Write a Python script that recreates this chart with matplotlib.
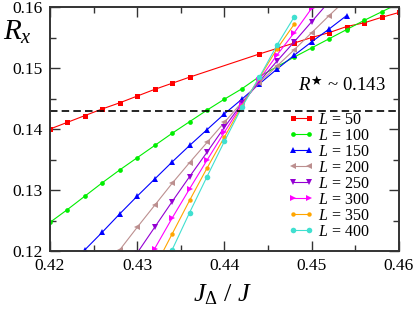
import matplotlib
matplotlib.use("Agg")
import matplotlib.pyplot as plt
import numpy as np

plt.rcParams['font.family'] = ['Liberation Serif', 'DejaVu Serif']
plt.rcParams['mathtext.fontset'] = 'custom'
plt.rcParams['mathtext.rm'] = 'Liberation Serif'
plt.rcParams['mathtext.it'] = 'Liberation Serif:italic'
plt.rcParams['mathtext.bf'] = 'Liberation Serif:bold'
plt.rcParams['mathtext.fallback'] = 'stix'

# ---- data ----
sizes = [50, 100, 150, 200, 250, 300, 350, 400]

x50 = [0.420, 0.422, 0.424, 0.426, 0.428, 0.430, 0.432, 0.434, 0.436,
       0.444, 0.446, 0.448, 0.450, 0.452, 0.454, 0.456, 0.458, 0.460]
y50 = [0.1400, 0.1411, 0.1422, 0.1433, 0.1443, 0.1454, 0.1465, 0.1475, 0.1485,
       0.1523, 0.1532, 0.1541, 0.1550, 0.1558, 0.1568, 0.1574, 0.1583, 0.1591]

x100 = [0.420, 0.422, 0.424, 0.426, 0.428, 0.430, 0.432, 0.434, 0.436, 0.438,
        0.440, 0.442, 0.444, 0.446, 0.448, 0.450, 0.452, 0.454, 0.456, 0.458, 0.460]
y100 = [0.1247, 0.1268, 0.1290, 0.1312, 0.1333, 0.1353, 0.1373, 0.1393, 0.1412, 0.1431,
        0.1449, 0.1466, 0.1486, 0.1502, 0.1518, 0.1533, 0.1548, 0.1563, 0.1578, 0.1592, 0.1606]

x150 = [0.424, 0.426, 0.428, 0.430, 0.432, 0.434, 0.436, 0.438, 0.440, 0.442,
        0.444, 0.446, 0.448, 0.450, 0.452, 0.454]
y150 = [0.1202, 0.1231, 0.1261, 0.1290, 0.1318, 0.1346, 0.1373, 0.1399, 0.1425, 0.1449,
        0.1474, 0.1498, 0.1521, 0.1543, 0.1564, 0.1586]

x200 = [0.428, 0.430, 0.432, 0.434, 0.436, 0.438, 0.440, 0.442, 0.444, 0.446,
        0.448, 0.450, 0.452, 0.454]
y200 = [0.1202, 0.1239, 0.1275, 0.1311, 0.1345, 0.1378, 0.1411, 0.1444, 0.1476, 0.1503,
        0.1530, 0.1558, 0.1586, 0.1613]

x250 = [0.430, 0.432, 0.434, 0.436, 0.438, 0.440, 0.442, 0.444, 0.446, 0.448, 0.450, 0.452]
y250 = [0.1197, 0.1239, 0.1281, 0.1322, 0.1362, 0.1403, 0.1442, 0.1478, 0.1511, 0.1543, 0.1576, 0.1609]

x300 = [0.432, 0.434, 0.436, 0.438, 0.440, 0.442, 0.444, 0.446, 0.448, 0.450]
y300 = [0.1204, 0.1254, 0.1302, 0.1349, 0.1395, 0.1440, 0.1481, 0.1521, 0.1558, 0.1598]

x350 = [0.432, 0.434, 0.436, 0.438, 0.440, 0.442, 0.444, 0.446, 0.448]
y350 = [0.1173, 0.1228, 0.1283, 0.1336, 0.1387, 0.1438, 0.1484, 0.1531, 0.1572]

x400 = [0.434, 0.436, 0.438, 0.440, 0.442, 0.444, 0.446, 0.448]
y400 = [0.1202, 0.1263, 0.1322, 0.1380, 0.1436, 0.1485, 0.1537, 0.1584]

r_star = 0.143

xs = [x50, x100, x150, x200, x250, x300, x350, x400]
ys = [y50, y100, y150, y200, y250, y300, y350, y400]
colors = ['#ff0000', '#00ee00', '#0000ff', '#bc8f8f', '#9400d3', '#ff00ff', '#ffa500', '#40e0d0']
markers = ['s', 'o', '^', '<', 'v', '>', 'o', 'o']
msizes = [3.6, 3.4, 4.0, 4.0, 4.0, 4.0, 3.2, 4.0]

fig = plt.figure(figsize=(4.15, 3.14), dpi=100)
ax = fig.add_axes([0.1205, 0.2006, 0.8409, 0.7771])

for L, x, y, c, m, ms in zip(sizes, xs, ys, colors, markers, msizes):
    ax.plot(x, y, color=c, marker=m, markersize=ms, lw=0.8,
            markeredgewidth=0, label=r'$L$ = %d' % L)

ax.axhline(r_star, color='black', lw=1.2, ls=(0, (4.5, 2.5)))

ax.set_xlim(0.42, 0.46)
ax.set_ylim(0.12, 0.16)
ax.set_xticks([0.42, 0.43, 0.44, 0.45, 0.46])
ax.set_xticklabels(['0.42', '0.43', '0.44', '0.45', '0.46'])
ax.set_yticks([0.12, 0.13, 0.14, 0.15, 0.16])
ax.set_yticklabels(['0.12', '0.13', '0.14', '0.15', '0.16'])
ax.set_xticks(np.arange(0.425, 0.46, 0.01), minor=True)
ax.set_yticks(np.arange(0.125, 0.16, 0.01), minor=True)
ax.tick_params(which='both', direction='in', top=True, right=True, labelsize=12.5,
               color='#333333', width=1.0)
ax.tick_params(which='major', length=7, pad=5)
ax.tick_params(which='minor', length=4)
for s in ax.spines.values():
    s.set_linewidth(1.4)
    s.set_color('#333333')

ax.text(0.4484, 0.1463, r'$R^{\bigstar}$ ~ 0.143', fontsize=13.5, ha='left', va='baseline')

fig.text(0.008, 0.872, r'$R_x$', fontsize=21, ha='left', va='baseline')
fig.text(0.535, 0.04, r'$J_\Delta\ /\ J$', fontsize=19, ha='center', va='baseline')

leg = ax.legend(loc='lower right', frameon=False, fontsize=11.5, numpoints=2,
                handlelength=1.6, handletextpad=0.3, labelspacing=0.0,
                borderaxespad=0.0, bbox_to_anchor=(0.935, 0.02))

fig.savefig('out.png', dpi=100)
